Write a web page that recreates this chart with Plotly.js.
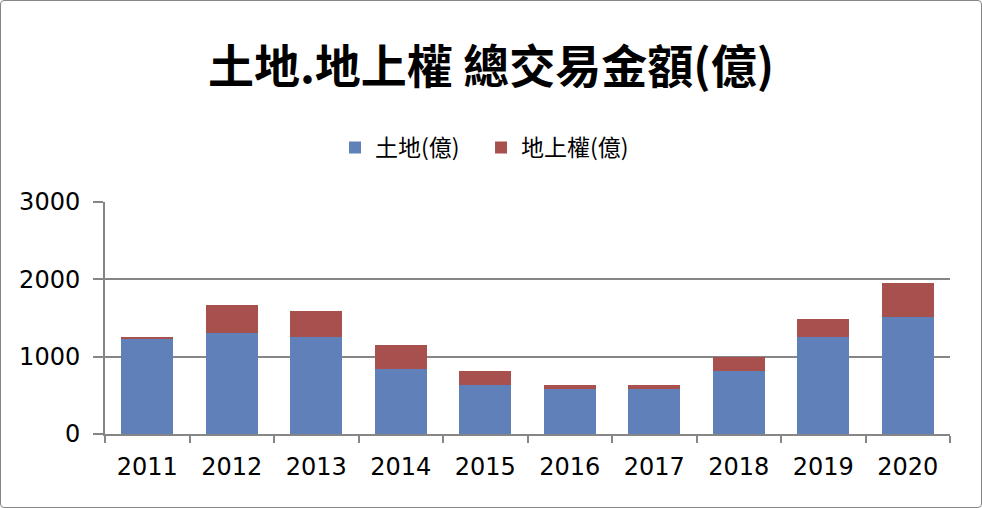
<!DOCTYPE html>
<html><head><meta charset="utf-8">
<script src="https://cdn.plot.ly/plotly-3.0.1.min.js"></script>
<style>
html,body{margin:0;padding:0;background:#fff;}
#wrap{position:absolute;left:0;top:0;width:980px;height:506px;border:1px solid #868686;border-radius:4px;overflow:hidden;}
#chart{width:982px;height:508px;position:absolute;left:-1px;top:-1px;}
</style></head>
<body><div id="wrap"><div id="chart"></div></div>
<script>
const years = ['2011','2012','2013','2014','2015','2016','2017','2018','2019','2020'];
const landValues = [1225, 1304, 1252, 838, 631, 579, 579, 812, 1252, 1512];
const surfaceRightValues = [27, 363, 337, 311, 181, 52, 52, 181, 234, 440];
const seriesNames = ['土地(億)', '地上權(億)'];
const titleText = '土地.地上權 總交易金額(億)';

const cjk = '"Noto Sans CJK TC", "Noto Sans CJK SC", sans-serif';
const data = [
  {type:'bar', x: years, y: landValues, name: seriesNames[0], marker:{color:'#5f80b9'}},
  {type:'bar', x: years, y: surfaceRightValues, name: seriesNames[1], marker:{color:'#a8504e'}}
];
const layout = {
  width:982, height:508,
  barmode:'stack', bargap:0.38,
  paper_bgcolor:'rgba(0,0,0,0)', plot_bgcolor:'#fff',
  margin:{l:105, r:32, t:202, b:74},
  title:{text:'<b>'+titleText+'</b>', x:0.5, xanchor:'center', y:0.868, yanchor:'middle',
         font:{family:cjk, size:46, color:'#000'}},
  showlegend:true,
  legend:{orientation:'h', x:0.445, xanchor:'center', y:1.235, yanchor:'middle',
          font:{family:cjk, size:23, color:'#000'}, traceorder:'normal', itemwidth:30,
          entrywidth:101, entrywidthmode:'pixels'},
  xaxis:{type:'category', showline:true, linecolor:'#868686', linewidth:2,
         ticks:'outside', tickson:'boundaries', ticklen:7, tickcolor:'#868686', tickwidth:2,
         ticklabelstandoff:10,
         tickfont:{family:'"DejaVu Sans", sans-serif', size:24, color:'#000'}, showgrid:false},
  yaxis:{range:[0,3000], dtick:1000, tick0:0, showline:true, linecolor:'#868686', linewidth:2,
         ticks:'outside', ticklen:10, tickcolor:'#868686', tickwidth:2, ticklabelstandoff:8,
         showgrid:true, gridcolor:'#868686', gridwidth:2, zeroline:false,
         tickfont:{family:'"DejaVu Sans", sans-serif', size:24, color:'#000'}}
};
Plotly.newPlot('chart', data, layout, {displayModeBar:false, staticPlot:true});
</script></body></html>
